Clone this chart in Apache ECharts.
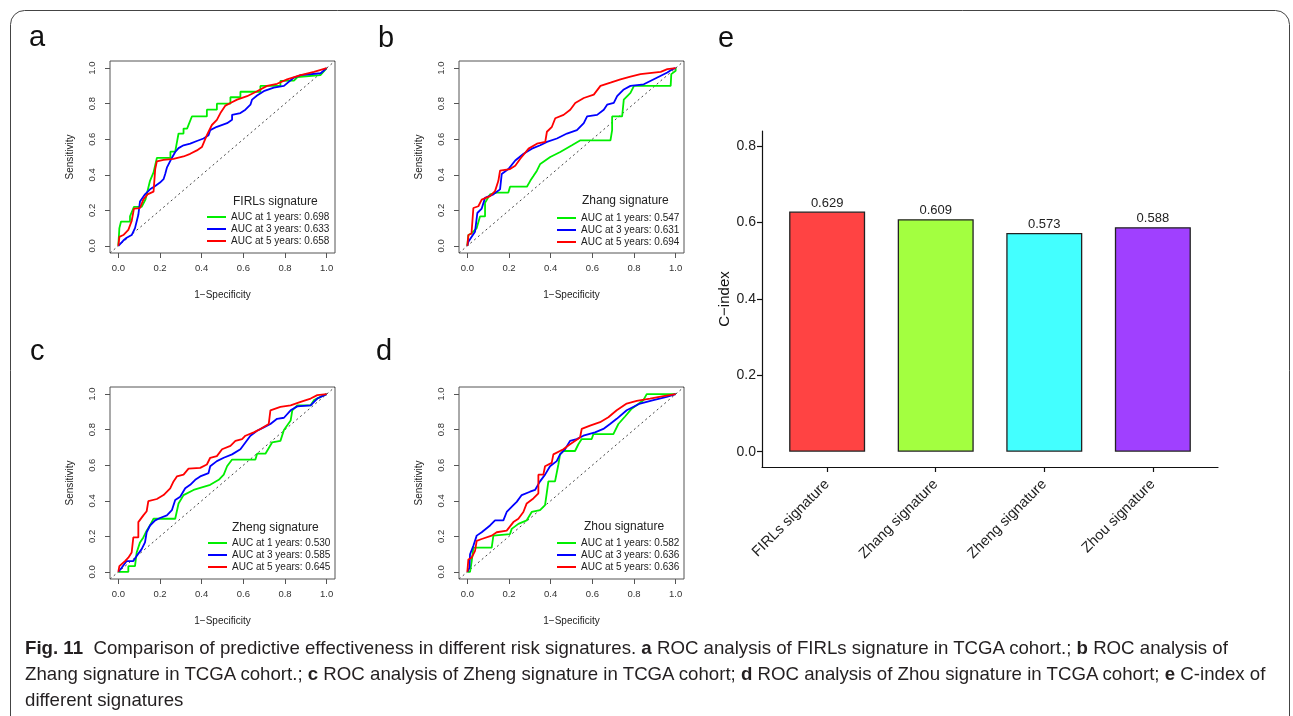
<!DOCTYPE html>
<html>
<head>
<meta charset="utf-8">
<title>Fig. 11</title>
<script src="https://cdn.jsdelivr.net/npm/echarts@6/dist/echarts.min.js"></script>
<style>
  html, body { margin: 0; padding: 0; background: #fff; }
  #wrap { position: relative; width: 1293px; height: 716px; overflow: hidden; }
  #chart { position: absolute; left: 0; top: 0; width: 1293px; height: 716px; }
  #caption {
    position: absolute; left: 25px; top: 635px; width: 1280px;
    font-family: "Liberation Sans", Arial, sans-serif;
    font-size: 19px; line-height: 26px; color: #231f20; white-space: nowrap;
    transform: scaleX(0.982); transform-origin: 0 0;
  }
  #caption b { font-weight: bold; }
</style>
</head>
<body>
<div id="wrap">
  <div id="chart"></div>
  <div id="caption">
    <b>Fig. 11</b>&nbsp; Comparison of predictive effectiveness in different risk signatures. <b>a</b> ROC analysis of FIRLs signature in TCGA cohort.; <b>b</b> ROC analysis of<br>
    Zhang signature in TCGA cohort.; <b>c</b> ROC analysis of Zheng signature in TCGA cohort; <b>d</b> ROC analysis of Zhou signature in TCGA cohort; <b>e</b> C-index of<br>
    different signatures
  </div>
</div>
<script>
// ROC curves, [1-specificity, sensitivity]
const rocA1 = [[0,0],[0.005,0.1],[0.013,0.137],[0.056,0.137],[0.056,0.166],[0.075,0.22],[0.112,0.22],[0.13,0.26],[0.152,0.366],[0.169,0.413],[0.185,0.495],[0.25,0.495],[0.25,0.53],[0.273,0.53],[0.28,0.575],[0.289,0.632],[0.313,0.632],[0.313,0.66],[0.33,0.66],[0.353,0.728],[0.425,0.728],[0.425,0.766],[0.473,0.766],[0.473,0.8],[0.538,0.8],[0.538,0.836],[0.586,0.836],[0.586,0.867],[0.682,0.867],[0.682,0.9],[0.778,0.9],[0.778,0.928],[0.843,0.93],[0.86,0.95],[0.97,0.96],[1,1]];
const rocA3 = [[0,0],[0.024,0.03],[0.04,0.046],[0.064,0.061],[0.08,0.1],[0.096,0.175],[0.104,0.25],[0.128,0.29],[0.152,0.318],[0.177,0.337],[0.2,0.356],[0.217,0.375],[0.225,0.404],[0.233,0.44],[0.25,0.48],[0.273,0.528],[0.289,0.55],[0.313,0.566],[0.345,0.575],[0.377,0.59],[0.409,0.604],[0.433,0.623],[0.441,0.651],[0.473,0.67],[0.522,0.69],[0.546,0.709],[0.546,0.737],[0.586,0.747],[0.61,0.766],[0.634,0.794],[0.642,0.823],[0.666,0.846],[0.698,0.87],[0.746,0.89],[0.795,0.9],[0.843,0.947],[0.875,0.96],[0.971,0.971],[1,1]];
const rocA5 = [[0,0],[0.005,0.051],[0.024,0.061],[0.048,0.09],[0.064,0.14],[0.075,0.21],[0.104,0.213],[0.12,0.26],[0.14,0.29],[0.169,0.305],[0.177,0.432],[0.185,0.476],[0.217,0.484],[0.265,0.49],[0.313,0.503],[0.345,0.518],[0.377,0.537],[0.401,0.556],[0.425,0.623],[0.449,0.68],[0.473,0.709],[0.49,0.747],[0.514,0.789],[0.538,0.804],[0.57,0.823],[0.618,0.842],[0.666,0.87],[0.714,0.9],[0.762,0.912],[0.81,0.937],[0.875,0.96],[0.939,0.979],[1,1]];

const rocB1 = [[0,0],[0.005,0.061],[0.02,0.07],[0.045,0.1],[0.061,0.166],[0.085,0.166],[0.085,0.242],[0.109,0.29],[0.141,0.3],[0.197,0.3],[0.205,0.333],[0.286,0.333],[0.302,0.366],[0.318,0.394],[0.334,0.423],[0.35,0.461],[0.398,0.5],[0.446,0.528],[0.502,0.566],[0.543,0.594],[0.687,0.594],[0.695,0.651],[0.695,0.728],[0.743,0.728],[0.751,0.823],[0.783,0.861],[0.8,0.9],[0.976,0.9],[0.979,0.966],[1,0.985],[1,1]];
const rocB3 = [[0,0],[0.005,0.023],[0.02,0.05],[0.037,0.08],[0.048,0.185],[0.069,0.21],[0.085,0.27],[0.125,0.29],[0.157,0.318],[0.165,0.404],[0.197,0.432],[0.23,0.48],[0.27,0.518],[0.31,0.547],[0.35,0.566],[0.382,0.585],[0.43,0.604],[0.478,0.632],[0.526,0.651],[0.559,0.69],[0.575,0.728],[0.623,0.737],[0.655,0.766],[0.671,0.794],[0.703,0.804],[0.719,0.842],[0.751,0.88],[0.783,0.9],[0.847,0.909],[0.912,0.947],[0.96,0.975],[0.984,0.994],[1,1]];
const rocB5 = [[0,0],[0.005,0.061],[0.02,0.07],[0.029,0.213],[0.053,0.223],[0.069,0.26],[0.109,0.28],[0.133,0.308],[0.149,0.366],[0.157,0.423],[0.205,0.432],[0.23,0.451],[0.254,0.49],[0.294,0.547],[0.334,0.575],[0.374,0.585],[0.382,0.642],[0.406,0.67],[0.422,0.718],[0.462,0.737],[0.494,0.766],[0.518,0.804],[0.559,0.832],[0.607,0.851],[0.639,0.9],[0.687,0.918],[0.735,0.937],[0.783,0.952],[0.831,0.966],[0.928,0.979],[0.96,0.994],[1,1]];

const rocC1 = [[0,0],[0.048,0],[0.048,0.032],[0.08,0.032],[0.088,0.109],[0.104,0.166],[0.12,0.194],[0.136,0.232],[0.152,0.261],[0.169,0.299],[0.273,0.299],[0.289,0.385],[0.313,0.432],[0.361,0.461],[0.441,0.49],[0.482,0.518],[0.506,0.547],[0.522,0.594],[0.546,0.632],[0.658,0.632],[0.666,0.665],[0.706,0.665],[0.738,0.728],[0.778,0.737],[0.795,0.798],[0.827,0.851],[0.835,0.909],[0.859,0.937],[0.923,0.937],[0.939,0.966],[0.987,0.994],[1,1]];
const rocC3 = [[0,0],[0.016,0.023],[0.04,0.061],[0.072,0.061],[0.088,0.09],[0.112,0.128],[0.128,0.166],[0.136,0.223],[0.152,0.261],[0.177,0.29],[0.2,0.303],[0.233,0.318],[0.257,0.347],[0.273,0.404],[0.297,0.423],[0.321,0.47],[0.345,0.49],[0.369,0.518],[0.393,0.537],[0.433,0.556],[0.441,0.594],[0.473,0.623],[0.506,0.642],[0.546,0.661],[0.586,0.69],[0.61,0.728],[0.634,0.766],[0.666,0.794],[0.698,0.813],[0.73,0.832],[0.762,0.861],[0.795,0.867],[0.827,0.909],[0.859,0.931],[0.923,0.937],[0.955,0.975],[1,1]];
const rocC5 = [[0,0],[0.005,0.032],[0.032,0.061],[0.048,0.08],[0.064,0.109],[0.072,0.194],[0.096,0.194],[0.096,0.28],[0.12,0.318],[0.136,0.341],[0.144,0.398],[0.185,0.41],[0.217,0.432],[0.249,0.47],[0.265,0.509],[0.281,0.537],[0.313,0.547],[0.337,0.581],[0.393,0.585],[0.425,0.604],[0.441,0.642],[0.473,0.651],[0.498,0.69],[0.538,0.709],[0.562,0.737],[0.594,0.747],[0.61,0.766],[0.65,0.785],[0.682,0.804],[0.722,0.832],[0.73,0.909],[0.778,0.928],[0.827,0.937],[0.875,0.956],[0.923,0.975],[0.955,0.994],[1,1]];

const rocD1 = [[0,0],[0.013,0],[0.021,0.061],[0.029,0.137],[0.117,0.137],[0.125,0.204],[0.205,0.213],[0.213,0.242],[0.245,0.27],[0.285,0.29],[0.309,0.337],[0.349,0.347],[0.373,0.375],[0.381,0.442],[0.389,0.509],[0.421,0.509],[0.437,0.604],[0.445,0.661],[0.461,0.68],[0.517,0.68],[0.533,0.718],[0.549,0.747],[0.597,0.747],[0.605,0.775],[0.701,0.775],[0.725,0.832],[0.757,0.874],[0.789,0.918],[0.845,0.966],[0.861,1],[1,1]];
const rocD3 = [[0,0],[0.01,0.023],[0.013,0.099],[0.029,0.147],[0.045,0.204],[0.069,0.223],[0.109,0.261],[0.133,0.29],[0.173,0.29],[0.189,0.337],[0.221,0.375],[0.237,0.394],[0.261,0.432],[0.301,0.451],[0.325,0.461],[0.349,0.509],[0.373,0.547],[0.397,0.594],[0.429,0.623],[0.445,0.661],[0.469,0.69],[0.493,0.737],[0.525,0.747],[0.557,0.766],[0.613,0.785],[0.653,0.804],[0.685,0.832],[0.717,0.861],[0.765,0.909],[0.829,0.947],[0.893,0.966],[0.957,0.985],[1,1]];
const rocD5 = [[0,0],[0.005,0.07],[0.021,0.08],[0.037,0.118],[0.045,0.175],[0.069,0.185],[0.117,0.204],[0.141,0.223],[0.189,0.232],[0.221,0.28],[0.245,0.299],[0.269,0.337],[0.285,0.385],[0.317,0.413],[0.341,0.442],[0.341,0.547],[0.365,0.547],[0.373,0.594],[0.405,0.613],[0.413,0.661],[0.461,0.69],[0.493,0.718],[0.541,0.756],[0.549,0.804],[0.589,0.823],[0.637,0.842],[0.677,0.87],[0.717,0.909],[0.765,0.947],[0.813,0.962],[0.877,0.975],[0.941,0.989],[1,1]];

const rocPanels = [
  { letter: 'a', title: 'FIRLs signature', curves: [rocA1, rocA3, rocA5], auc: ['0.698', '0.633', '0.658'] },
  { letter: 'b', title: 'Zhang signature', curves: [rocB1, rocB3, rocB5], auc: ['0.547', '0.631', '0.694'] },
  { letter: 'c', title: 'Zheng signature', curves: [rocC1, rocC3, rocC5], auc: ['0.530', '0.585', '0.645'] },
  { letter: 'd', title: 'Zhou signature', curves: [rocD1, rocD3, rocD5], auc: ['0.582', '0.636', '0.636'] }
];
const rocYears = [1, 3, 5];
const rocColors = ['#00ee00', '#0000ff', '#ff0000'];
const rocTicks = [0, 0.2, 0.4, 0.6, 0.8, 1.0];
const diagLine = [[-0.04, -0.04], [1.04, 1.04]];

// C-index bar chart
const sigNames = ['FIRLs signature', 'Zhang signature', 'Zheng signature', 'Zhou signature'];
const cIndex = [0.629, 0.609, 0.573, 0.588];
const barColors = ['#ff4343', '#a3ff40', '#43ffff', '#a040ff'];
const cTicks = [0, 0.2, 0.4, 0.6, 0.8];

const FONT = '"Liberation Sans", Arial, sans-serif';
const chart = echarts.init(document.getElementById('chart'));

// panel boxes
const rocBoxes = [
  { left: 110, top: 61 },
  { left: 459, top: 61 },
  { left: 110, top: 387 },
  { left: 459, top: 387 }
];
const legendPos = [
  { left: 207, top: 211, tx: 233, ty: 203 },
  { left: 557, top: 212, tx: 582, ty: 202 },
  { left: 208, top: 537, tx: 232, ty: 529 },
  { left: 557, top: 537, tx: 584, ty: 528 }
];
const letterPos = [[29, 38], [378, 39], [30, 352], [376, 352]];

const grid = [], xAxis = [], yAxis = [], series = [], legend = [], graphic = [];

rocPanels.forEach((p, i) => {
  grid.push({ left: rocBoxes[i].left, top: rocBoxes[i].top, width: 225, height: 192,
    show: true, borderColor: '#555', borderWidth: 1, outerBoundsMode: 'none' });
  const axisCommon = {
    gridIndex: i, type: 'value', min: -0.04, max: 1.04,
    axisLine: { show: false, onZero: false },
    splitLine: { show: false },
    axisTick: { show: true, length: 5, customValues: rocTicks, lineStyle: { color: '#555' } },
    nameLocation: 'middle',
    nameTextStyle: { fontFamily: FONT, fontSize: 10, color: '#222' }
  };
  xAxis.push(Object.assign({}, axisCommon, {
    name: '1\u2212Specificity', nameGap: 37,
    axisLabel: { customValues: rocTicks, formatter: v => v.toFixed(1), fontFamily: FONT, fontSize: 9.5, color: '#333', margin: 10 }
  }));
  yAxis.push(Object.assign({}, axisCommon, {
    name: 'Sensitivity', nameGap: 35,
    axisLabel: { customValues: rocTicks, formatter: v => v.toFixed(1), rotate: 90, fontFamily: FONT, fontSize: 9.5, color: '#333', margin: 13 }
  }));
  series.push({ type: 'line', xAxisIndex: i, yAxisIndex: i, data: diagLine, showSymbol: false, silent: true,
    lineStyle: { color: '#444', width: 1, type: [2, 3] }, z: 1 });
  const names = [];
  p.curves.forEach((c, k) => {
    const nm = 'AUC at ' + rocYears[k] + ' years: ' + p.auc[k] + (k === 2 && i === 3 ? '\u200b' : '');
    names.push(nm);
    series.push({ type: 'line', name: nm, xAxisIndex: i, yAxisIndex: i, data: c, showSymbol: false,
      color: rocColors[k], lineStyle: { color: rocColors[k], width: 1.8 }, z: 2 + k });
  });
  legend.push({ orient: 'vertical', left: legendPos[i].left, top: legendPos[i].top, data: names,
    icon: 'rect', itemWidth: 19, itemHeight: 2, itemGap: 0, padding: 0, selectedMode: false,
    textStyle: { fontFamily: FONT, fontSize: 10, color: '#222', lineHeight: 12 } });
  graphic.push({ type: 'text', left: legendPos[i].tx, top: legendPos[i].ty - 7,
    style: { text: p.title, font: '12px ' + FONT, fill: '#222' } });
  graphic.push({ type: 'text', x: letterPos[i][0], y: letterPos[i][1],
    style: { text: p.letter, font: '29px ' + FONT, fill: '#111', verticalAlign: 'middle' } });
});

// panel e
grid.push({ left: 762, top: 131, width: 456, height: 336, outerBoundsMode: 'none' });
xAxis.push({ gridIndex: 4, type: 'value', min: 0.4, max: 4.6,
  axisLine: { show: true, onZero: false, lineStyle: { color: '#111', width: 1.2 } },
  splitLine: { show: false },
  axisTick: { show: true, length: 5, customValues: [1, 2, 3, 4], lineStyle: { color: '#111', width: 1.2 } },
  axisLabel: { customValues: [1, 2, 3, 4], formatter: v => sigNames[Math.round(v) - 1], rotate: 45,
    fontFamily: FONT, fontSize: 14.5, color: '#222', margin: 15 } });
yAxis.push({ gridIndex: 4, type: 'value', min: -0.04, max: 0.84,
  name: 'C\u2212index', nameLocation: 'middle', nameGap: 29,
  nameTextStyle: { fontFamily: FONT, fontSize: 15, color: '#111' },
  axisLine: { show: true, onZero: false, lineStyle: { color: '#111', width: 1.2 } },
  splitLine: { show: false },
  axisTick: { show: true, length: 5, customValues: cTicks, lineStyle: { color: '#111', width: 1.2 } },
  axisLabel: { customValues: cTicks, formatter: v => v.toFixed(1), fontFamily: FONT, fontSize: 14, color: '#222', margin: 6 } });
series.push({ type: 'bar', xAxisIndex: 4, yAxisIndex: 4, barWidth: 76,
  data: cIndex.map((v, k) => ({ value: [k + 1, v], itemStyle: { color: barColors[k] } })),
  itemStyle: { borderColor: '#222', borderWidth: 1.3 },
  label: { show: true, position: 'top', distance: 2, formatter: p => p.value[1].toFixed(3),
    fontFamily: FONT, fontSize: 13, color: '#222' } });
graphic.push({ type: 'text', x: 718, y: 39,
  style: { text: 'e', font: '29px ' + FONT, fill: '#111', verticalAlign: 'middle' } });

// outer frame
graphic.push({ type: 'rect', shape: { x: 10.5, y: 10.5, width: 1279, height: 800, r: 14 },
  style: { fill: 'none', stroke: '#444', lineWidth: 1 }, z: -10 });

chart.setOption({
  animation: false,
  backgroundColor: '#fff',
  grid, xAxis, yAxis, series, legend, graphic
});
</script>
</body>
</html>
